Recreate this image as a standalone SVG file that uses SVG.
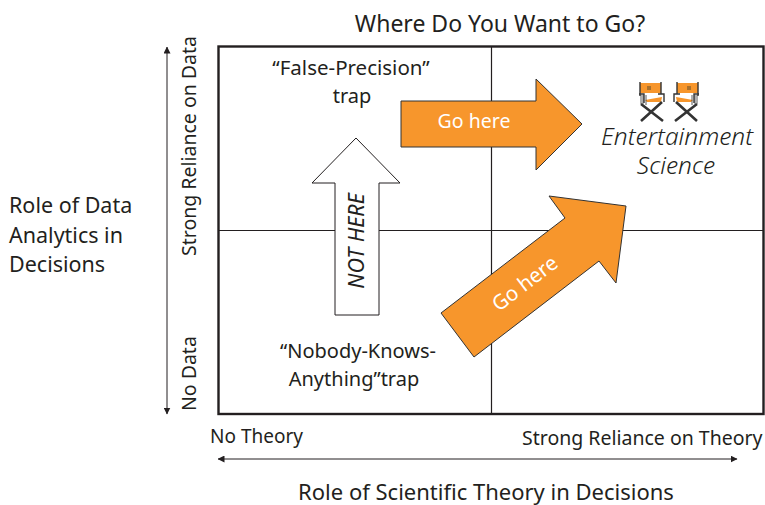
<svg xmlns="http://www.w3.org/2000/svg" width="765" height="505" viewBox="0 0 765 505">
<style>
text{font-family:"Noto Sans","Open Sans",sans-serif;fill:#231f20;font-size:19.5px}
.m{text-anchor:middle}
.o{fill:#f7962c;stroke:#333;stroke-width:1}
.w{fill:#fff;stroke:#231f20;stroke-width:1}
.g{fill:none;stroke:#231f20;stroke-width:1.2}
.ax{fill:none;stroke:#231f20;stroke-width:1;marker-start:url(#a);marker-end:url(#a)}
.c{fill:none;stroke:#333;stroke-width:1.4}
.it{font-style:italic;font-size:24.5px;font-weight:300}
</style>
<defs>
<marker id="a" viewBox="0 0 7 7" refX="6.500" refY="3.500" markerWidth="7" markerHeight="7" orient="auto-start-reverse" markerUnits="userSpaceOnUse"><path d="M0 0L7 3.500L0 7Z" fill="#231f20"/></marker>
<g id="chair">
<path d="M1 1H22V11H1Z" fill="#f7962c" stroke="none"/>
<path d="M1 0V14M22 0V12" class="c"/>
<path d="M0 12H5V21M19 12H25V20" class="c"/>
<path d="M6 18L23 15L22 20H8Z" fill="#f7962c"/>
<path d="M2 22L24 39M23 20L2 39" stroke="#333" stroke-width="2.600" fill="none"/>
<path d="M2 13V22M4 13V22M7 13V23" stroke="#333" stroke-width="0.800" fill="none"/>
<rect x="8" y="4" width="4" height="4" fill="#a8702c"/>
</g>
</defs>
<g id="connectors">
<path class="ax" d="M167 47V414"/>
<path class="ax" d="M218 459H737"/>
</g>
<g id="matrix">
<rect x="218.500" y="46.500" width="545" height="367.500" fill="none" stroke="#231f20" stroke-width="2.400"/>
<path class="g" d="M491.500 47V414M219 230.500H763"/>
</g>
<g id="title"><text class="m" x="500" y="32" style="font-size:23px">Where Do You Want to Go?</text></g>
<g id="y-title"><text x="9" y="213" style="font-size:21.500px">Role of Data</text><text x="9" y="243" style="font-size:21.500px">Analytics in</text><text x="9" y="272" style="font-size:21.500px">Decisions</text></g>
<g id="y-high"><text transform="translate(196 256) rotate(-90)">Strong Reliance on Data</text></g>
<g id="y-low"><text transform="translate(196 411) rotate(-90)">No Data</text></g>
<g id="x-low"><text x="210" y="443" style="font-size:19px">No Theory</text></g>
<g id="x-high"><text x="522" y="445">Strong Reliance on Theory</text></g>
<g id="x-title"><text class="m" x="486" y="500" style="font-size:22px">Role of Scientific Theory in Decisions</text></g>
<g id="false-precision"><text class="m" x="351" y="75" style="font-size:20.500px">“False-Precision”</text><text class="m" x="352" y="103" style="font-size:20px">trap</text></g>
<g id="nobody-knows"><text class="m" x="358" y="358" style="font-size:20px">“Nobody-Knows-</text><text class="m" x="354" y="386" style="font-size:20px">Anything”trap</text></g>
<g id="not-here"><path class="w" d="M335 315H379V183H400L356 138L312 183H335Z"/><text class="m" transform="translate(364 241) rotate(-90)" style="font-style:italic;font-size:21.500px">NOT HERE</text></g>
<g id="go-here-1"><path class="o" d="M401 101H536V79L582 124L536 170V147H401Z"/><text class="m" x="474" y="128" style="fill:#fff">Go here</text></g>
<g id="go-here-2"><path class="o" d="M441 313L565 218L549 196L626 206L616 283L599 261L474 357Z"/><text class="m" transform="translate(529 289) rotate(-37.500)" style="fill:#fff;font-size:20.500px">Go here</text></g>
<g id="entertainment"><use href="#chair" x="639" y="82"/><use href="#chair" transform="translate(699 82) scale(-1 1)"/>
<text class="m it"><tspan x="677" y="145">Entertainment</tspan><tspan x="676" y="174">Science</tspan></text></g>
</svg>
